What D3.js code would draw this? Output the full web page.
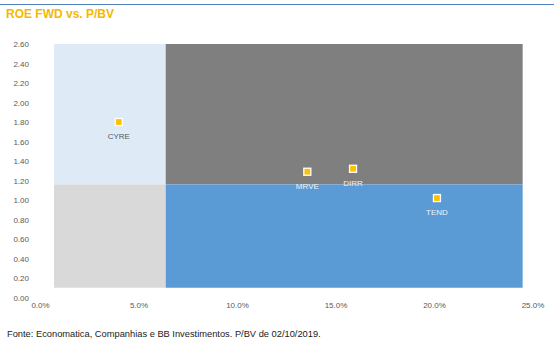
<!DOCTYPE html>
<html>
<head>
<meta charset="utf-8">
<script src="https://cdn.jsdelivr.net/npm/d3@7/dist/d3.min.js"></script>
<style>
  body { margin: 0; background: #fff; }
  svg { display: block; font-family: "Liberation Sans", Arial, sans-serif; }
</style>
</head>
<body>
<svg id="chart" width="554" height="353"></svg>
<script>
// ---- data ----
const tickers = ["CYRE", "MRVE", "DIRR", "TEND"];
const roeFwd  = [0.040, 0.1357, 0.1589, 0.2015];
const pbv     = [1.80, 1.29, 1.32, 1.02];
const labelDark = [true, false, false, false];

const xTicks = [0, 0.05, 0.10, 0.15, 0.20, 0.25];
const yTicks = [0, 0.2, 0.4, 0.6, 0.8, 1.0, 1.2, 1.4, 1.6, 1.8, 2.0, 2.2, 2.4, 2.6];

// quadrant background (data units)
const quadX0 = [0.0071, 0.0638, 0.0071, 0.0638];
const quadX1 = [0.0638, 0.2450, 0.0638, 0.2450];
const quadY0 = [1.16, 1.16, 0.10, 0.10];
const quadY1 = [2.60, 2.60, 1.16, 1.16];
const quadColors = ["#deeaf6", "#7f7f7f", "#d9d9d9", "#5b9bd5"];

const titleText = "ROE FWD vs. P/BV";
const sourceText = "Fonte: Economatica, Companhias e BB Investimentos. P/BV de 02/10/2019.";

// ---- drawing ----
const svg = d3.select("#chart");
const x = d3.scaleLinear().domain([0, 0.25]).range([40, 532.5]);
const y = d3.scaleLinear().domain([0, 2.6]).range([297.5, 44]);

// top rule
svg.append("line").attr("x1", 0).attr("x2", 554).attr("y1", 4.5).attr("y2", 4.5)
  .attr("stroke", "#4f81bd").attr("stroke-width", 1);

svg.append("text").attr("x", 6).attr("y", 18)
  .attr("fill", "#f5b800").attr("font-weight", "bold").attr("font-size", 12)
  .text(titleText);

// quadrants
svg.append("g").selectAll("rect").data(quadColors).join("rect")
  .attr("x", (d, i) => x(quadX0[i]))
  .attr("y", (d, i) => y(quadY1[i]))
  .attr("width", (d, i) => x(quadX1[i]) - x(quadX0[i]))
  .attr("height", (d, i) => y(quadY0[i]) - y(quadY1[i]))
  .attr("fill", d => d);

// axes
const yAxis = d3.axisLeft(y).tickValues(yTicks).tickFormat(d3.format(".2f")).tickSize(0).tickPadding(0);
const gy = svg.append("g").attr("transform", "translate(29,0)").call(yAxis);
gy.select(".domain").remove();
gy.selectAll("text").attr("fill", "#595959").attr("font-size", 8)
  .attr("font-family", "'Liberation Sans', Arial, sans-serif");

const xAxis = d3.axisBottom(x).tickValues(xTicks).tickFormat(d3.format(".1%")).tickSize(0).tickPadding(0);
const gx = svg.append("g").attr("transform", "translate(0,302)").call(xAxis);
gx.select(".domain").remove();
gx.selectAll("text").attr("fill", "#595959").attr("font-size", 8)
  .attr("font-family", "'Liberation Sans', Arial, sans-serif");

// points
const pts = svg.append("g").selectAll("g").data(tickers).join("g")
  .attr("transform", (d, i) => `translate(${x(roeFwd[i])},${y(pbv[i])})`);
pts.append("rect").attr("x", -3.5).attr("y", -3.5).attr("width", 7).attr("height", 7)
  .attr("fill", "#ffc000").attr("stroke", "#ffffff").attr("stroke-width", 1.3);
pts.append("text").attr("x", 0).attr("y", 17).attr("text-anchor", "middle")
  .attr("font-size", 8)
  .attr("fill", (d, i) => labelDark[i] ? "#595959" : "#f2f2f2")
  .text(d => d);

// source
svg.append("text").attr("x", 7).attr("y", 336.5)
  .attr("fill", "#1a1a1a").attr("font-size", 9.3)
  .text(sourceText);
</script>
</body>
</html>
